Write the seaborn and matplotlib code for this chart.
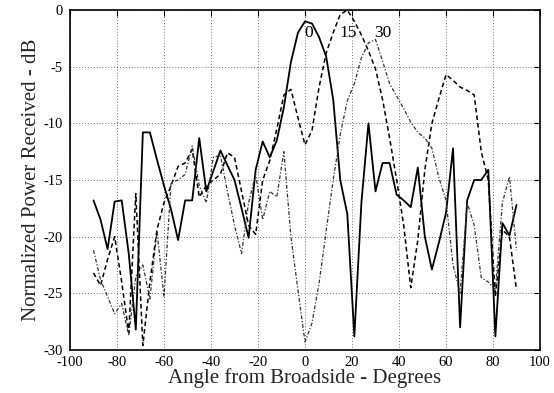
import numpy as np
import pandas as pd
import matplotlib
matplotlib.use("Agg")
import matplotlib.pyplot as plt
import seaborn as sns

angles = list(range(-90, 91, 3))

power_0 = [-16.8, -18.5, -21.1, -16.9, -16.8, -21.5, -28.2, -10.8, -10.8, -13.2,
           -15.5, -17.6, -20.3, -16.8, -16.8, -11.3, -16.0, -14.2, -12.4, -13.7,
           -15.0, -17.5, -20.1, -14.1, -11.6, -13.0, -11.5, -8.6, -4.6, -2.0,
           -1.0, -1.2, -2.4, -4.1, -7.9, -15.0, -18.0, -28.8, -17.0, -10.0,
           -16.0, -13.5, -13.5, -16.3, -16.8, -17.4, -13.9, -20.0, -22.9, -20.5,
           -17.9, -12.2, -28.0, -16.8, -15.0, -15.0, -14.1, -28.8, -18.8, -19.9,
           -17.2]

power_15 = [-23.2, -24.3, -22.0, -20.0, -24.0, -28.5, -16.2, -29.6, -24.0, -19.4,
            -17.0, -15.5, -13.8, -13.5, -12.3, -16.5, -15.5, -15.0, -14.5, -12.6,
            -13.0, -16.0, -19.0, -19.8, -15.0, -13.3, -10.5, -7.5, -7.0, -9.5,
            -11.9, -10.6, -6.8, -3.8, -2.0, -0.4, 0.0, -1.0, -2.2, -3.6,
            -5.2, -7.9, -11.3, -15.0, -19.0, -24.5, -20.3, -14.1, -10.0, -7.8,
            -5.7, -6.2, -6.8, -7.1, -7.5, -12.5, -15.0, -25.3, -19.4, -20.0,
            -24.7]

power_30 = [-21.2, -23.8, -25.3, -26.8, -25.9, -28.7, -23.5, -22.5, -25.5, -19.5,
            -25.3, -15.2, -15.0, -14.5, -12.0, -15.5, -17.0, -13.0, -12.8, -16.0,
            -19.0, -21.5, -17.0, -14.5, -18.5, -16.0, -16.5, -12.5, -20.0, -24.7,
            -29.3, -27.6, -24.1, -19.5, -15.0, -11.0, -8.0, -6.5, -4.2, -2.9,
            -2.6, -4.5, -6.5, -7.6, -8.7, -9.9, -10.8, -11.3, -12.2, -14.8,
            -16.8, -22.5, -25.0, -17.0, -19.0, -23.6, -24.0, -24.7, -17.0, -14.7,
            -21.2]

steer_labels = ["0", "15", "30"]
label_pos = [(1.7, -2.0), (18.3, -2.0), (33.0, -2.0)]

x_ticks = list(range(-100, 101, 20))
y_ticks = list(range(-30, 1, 5))

sns.set_style("white")
plt.rcParams["font.family"] = ["Liberation Serif", "DejaVu Serif"]
plt.rcParams["axes.unicode_minus"] = False

fig = plt.figure(figsize=(5.54, 3.93), dpi=100)
ax = fig.add_axes([70 / 554, 1 - 350 / 393, 470 / 554, 340 / 393])

df = pd.DataFrame({"angle": angles, "p0": power_0, "p15": power_15, "p30": power_30})

sns.lineplot(data=df, x="angle", y="p0", ax=ax, color="black", lw=1.3,
             linestyle="-")
sns.lineplot(data=df, x="angle", y="p15", ax=ax, color="black", lw=1.1,
             linestyle=(0, (3.0, 2.0)))
sns.lineplot(data=df, x="angle", y="p30", ax=ax, color="#333333", lw=0.9,
             linestyle=(0, (3.0, 1.5, 1.0, 1.5)))

for lab, (lx, ly) in zip(steer_labels, label_pos):
    ax.text(lx, ly, lab, ha="center", va="center", fontsize=12.5, color="black")

ax.set_xlim(-100, 100)
ax.set_ylim(-30, 0)
ax.set_xticks(x_ticks)
ax.set_yticks(y_ticks)
ax.set_xticklabels([str(t) for t in x_ticks], fontsize=10.5)
ax.set_yticklabels([str(t) for t in y_ticks], fontsize=10.5)
ax.grid(True, color="#444444", linestyle=(0, (1, 2.5)), lw=0.6)
ax.tick_params(direction="in", top=True, right=True, length=4, width=0.8,
               colors="black")
ax.tick_params(axis="x", pad=4)
ax.tick_params(axis="y", pad=5)
for s in ax.spines.values():
    s.set_color("black")
    s.set_linewidth(1.2)

ax.set_xlabel("Angle from Broadside - Degrees", fontsize=15, labelpad=0)
ax.set_ylabel("Normalized Power Received - dB", fontsize=15, labelpad=2)

fig.savefig("out.png", dpi=100)
